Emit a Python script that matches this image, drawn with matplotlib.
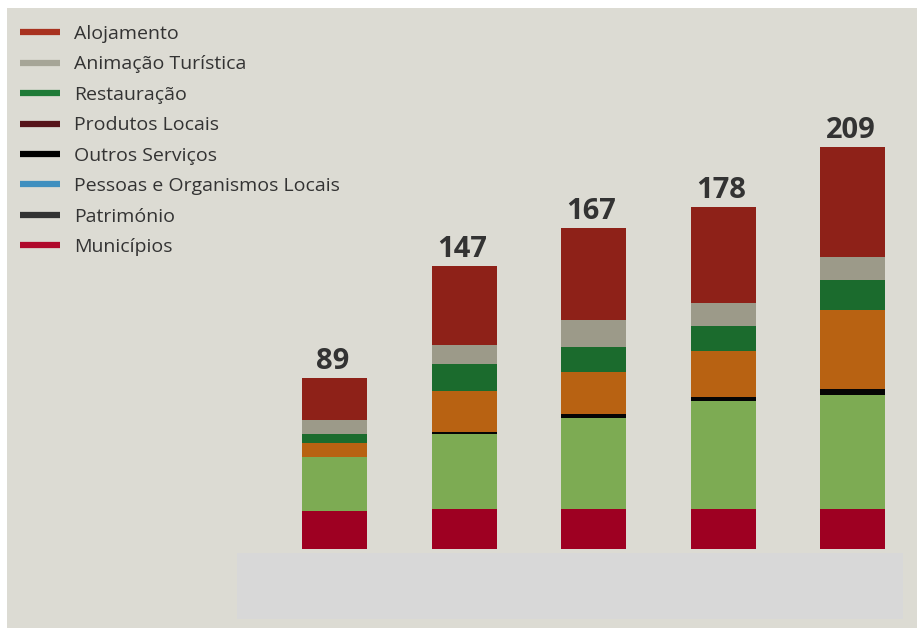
import matplotlib
matplotlib.use("Agg")
import matplotlib.pyplot as plt
from matplotlib.lines import Line2D
from matplotlib.patches import Rectangle

# valores (de baixo para cima em cada barra)
municipios = [20, 21, 21, 21, 21]
patrimonio = [0, 0, 0, 0, 0]
pessoas = [28, 39, 47, 56, 59]
outros = [0, 1, 2, 2, 3]
produtos = [7, 21, 22, 24, 41]
restauracao = [5, 14, 13, 13, 16]
animacao = [7, 10, 14, 12, 12]
alojamento = [22, 41, 48, 50, 57]
totais = [89, 147, 167, 178, 209]

# ordem da pilha e cores das barras
series = [
    ("Municípios", municipios, "#9e0022"),
    ("Património", patrimonio, "#333333"),
    ("Pessoas e Organismos Locais", pessoas, "#7dab53"),
    ("Outros Serviços", outros, "#050505"),
    ("Produtos Locais", produtos, "#b86212"),
    ("Restauração", restauracao, "#1b6b2d"),
    ("Animação Turística", animacao, "#9c9a89"),
    ("Alojamento", alojamento, "#8e2118"),
]

# legenda (ordem e cores tal como aparecem na imagem)
legend_labels = ["Alojamento", "Animação Turística", "Restauração", "Produtos Locais",
                 "Outros Serviços", "Pessoas e Organismos Locais", "Património", "Municípios"]
legend_colors = ["#a8321f", "#a6a597", "#1f7a37", "#561419",
                 "#000000", "#3f8fbf", "#333333", "#b0092c"]

bg = "#dcdbd3"
W, H = 918, 628
fig = plt.figure(figsize=(W / 100, H / 100), dpi=100, facecolor="white")
fig.patches.append(Rectangle((7 / W, 0), 910 / W, 620 / H, transform=fig.transFigure,
                             facecolor=bg, edgecolor="none", zorder=-5))

ppu = 402 / 209.0  # pixels por unidade
ax = fig.add_axes([237 / W, 9 / H, 666 / W, 611 / H])
ax.set_zorder(2)
ax.set_facecolor("none")
step = 129.5
ax.set_xlim((237 - 334.5) / step, (903 - 334.5) / step)
ax.set_ylim(-(619 - 549) / ppu, (549 - 8) / ppu)
ax.axis("off")

ax.axhspan(-(619 - 549) / ppu, -(553 - 549) / ppu, color="#d8d8d8", zorder=1, lw=0)

x = range(len(totais))
bottom = [0] * len(totais)
for name, vals, col in series:
    ax.bar(x, vals, bottom=bottom, width=65 / step, color=col, edgecolor="none", zorder=3)
    bottom = [b + v for b, v in zip(bottom, vals)]

for i, t in enumerate(totais):
    ax.annotate(str(t), (i, t), xytext=(-1.5, 6.5), textcoords="offset points",
                ha="center", va="baseline", fontsize=21, fontweight="bold",
                color="#333333", family="Open Sans", annotation_clip=False)

handles = [Line2D([], [], color=c, lw=4.5, solid_capstyle="butt") for c in legend_colors]
leg = fig.legend(handles, legend_labels, loc="upper left", bbox_to_anchor=(20 / W, 1 - 25 / H),
                 frameon=False, handlelength=2.07, handletextpad=0.72, labelspacing=0.64,
                 prop={"family": "Open Sans", "size": 14}, labelcolor="#333333",
                 borderaxespad=0, borderpad=0)
leg.set_zorder(3)

fig.savefig("out.png", dpi=100, facecolor=fig.get_facecolor())
